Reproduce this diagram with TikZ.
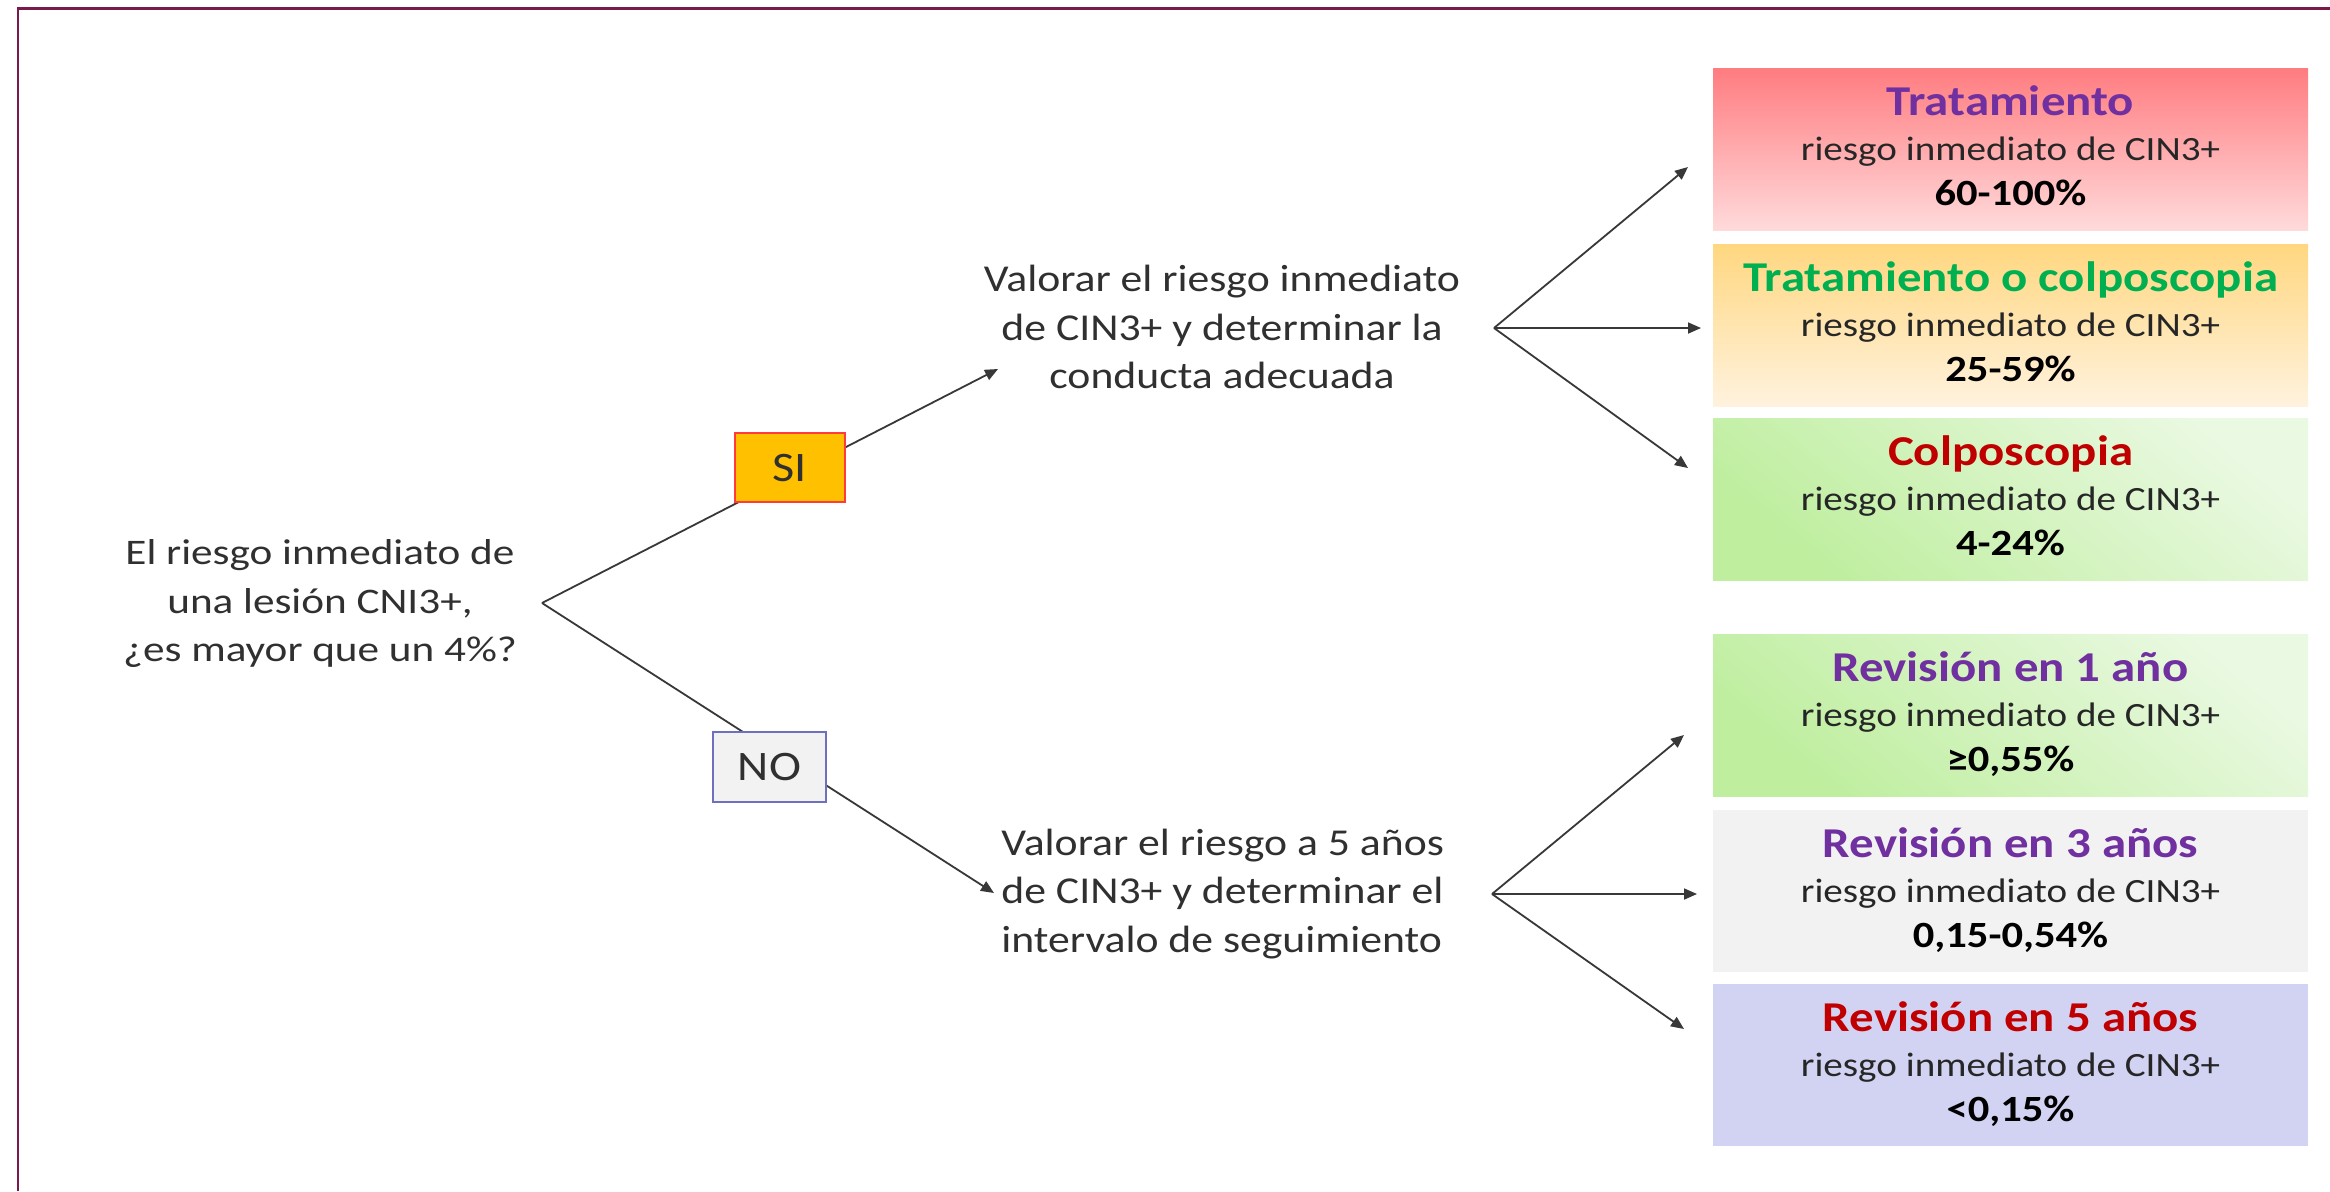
\documentclass[tikz,border=0pt]{standalone}
\usepackage{fontspec}
\setmainfont{Carlito}[FakeStretch=1.15]
\newfontfamily\widefont{Carlito}[FakeStretch=1.2]
\usetikzlibrary{arrows.meta,backgrounds}

\definecolor{framecol}{HTML}{7A1A4A}
\definecolor{txtcol}{HTML}{303030}
\definecolor{bodycol}{HTML}{262626}
\definecolor{linecol}{HTML}{383838}
\definecolor{purp}{HTML}{7030A0}
\definecolor{grn}{HTML}{00B050}
\definecolor{dred}{HTML}{C00000}
\definecolor{redA}{HTML}{FF7C80}
\definecolor{redB}{HTML}{FFDADB}
\definecolor{orgA}{HTML}{FFD780}
\definecolor{orgB}{HTML}{FFF2DE}
\definecolor{grnA}{HTML}{BEEE9E}
\definecolor{grnB}{HTML}{EAF9E2}
\definecolor{greyfill}{HTML}{F2F2F2}
\definecolor{lav}{HTML}{D2D2F2}
\definecolor{siyellow}{HTML}{FFC000}
\definecolor{sired}{HTML}{FF3B3B}
\definecolor{noblue}{HTML}{6F6FBF}

\begin{document}
\begin{tikzpicture}[x=0.5pt,y=-0.5pt,
  box/.style={minimum width=297.5pt, minimum height=81pt, inner sep=0pt, draw=none},
  vshade/.style 2 args={shading=axis, top color=#1, bottom color=#2},
  dshade/.style 2 args={shading=axis, bottom color=#1, top color=#2, shading angle=-40},
  ttl/.style={anchor=base, inner sep=0pt, font=\fontsize{21.25}{25}\selectfont\bfseries},
  risk/.style={anchor=base, inner sep=0pt, text=bodycol, font=\fontsize{17}{20}\selectfont},
  val/.style={anchor=base, inner sep=0pt, text=black, font=\fontsize{18.5}{22}\selectfont\bfseries},
  para/.style={inner sep=0pt, text=txtcol, font=\fontsize{19}{24.25}\selectfont},
  yn/.style={draw, line width=0.8pt, inner sep=0pt, text=txtcol, font=\fontsize{21}{24}\selectfont},
  link/.style={draw=linecol, line width=0.9pt},
  arr/.style={draw=linecol, line width=0.9pt, -{Triangle[length=6.5pt,width=5.5pt]}}
]
\useasboundingbox (0,0) rectangle (2330,1191);

% question and the two answers
\node[inner sep=0pt, text=txtcol, align=center, font=\widefont\fontsize{18}{24.25}\selectfont] (q) at (320,604)
  {El riesgo inmediato de\\una lesión CNI3+,\\¿es mayor que un 4\%?};
\coordinate (v0) at (542,603);

\node[yn, fill=siyellow, draw=sired, minimum width=55pt, minimum height=34.5pt] (si) at (790,467.5) {SI};
\node[yn, fill=greyfill, draw=noblue, minimum width=56.5pt, minimum height=35pt] (no) at (769.5,767) {NO};

% intermediate steps
\node[para, align=center] (mt) at (1222,327)
  {Valorar el riesgo inmediato\\de CIN3+ y determinar la\\conducta adecuada};
\node[para, align=left, anchor=west] (mb) at (1001,894)
  {Valorar el riesgo a 5 años\\de CIN3+ y determinar el\\intervalo de seguimiento};

\coordinate (ya) at (998,369);
\coordinate (na) at (994,893);

% fork points and arrow ends
\coordinate (f1) at (1494,328);
\coordinate (f1a) at (1688,167);
\coordinate (f1b) at (1701,328);
\coordinate (f1c) at (1688,468);
\coordinate (f2) at (1492,894);
\coordinate (f2a) at (1684,735);
\coordinate (f2b) at (1697,894);
\coordinate (f2c) at (1684,1029);

% outcome boxes
\node[box, vshade={redA}{redB}] (b1) at (2010.5,149) {};
\node[ttl, text=purp] (b1t) at ([yshift=17pt]b1.center) {Tratamiento};
\node[risk] (b1r) at ([yshift=-5.5pt]b1.center) {riesgo inmediato de CIN3+};
\node[val] (b1v) at ([yshift=-28pt]b1.center) {60-100\%};

\node[box, vshade={orgA}{orgB}] (b2) at (2010.5,325) {};
\node[ttl, text=grn] (b2t) at ([yshift=17pt]b2.center) {Tratamiento o colposcopia};
\node[risk] (b2r) at ([yshift=-5.5pt]b2.center) {riesgo inmediato de CIN3+};
\node[val] (b2v) at ([yshift=-28pt]b2.center) {25-59\%};

\node[box, dshade={grnA}{grnB}] (b3) at (2010.5,499) {};
\node[ttl, text=dred] (b3t) at ([yshift=17pt]b3.center) {Colposcopia};
\node[risk] (b3r) at ([yshift=-5.5pt]b3.center) {riesgo inmediato de CIN3+};
\node[val] (b3v) at ([yshift=-28pt]b3.center) {4-24\%};

\node[box, dshade={grnA}{grnB}] (b4) at (2010.5,715) {};
\node[ttl, text=purp] (b4t) at ([yshift=17pt]b4.center) {Revisión en 1 año};
\node[risk] (b4r) at ([yshift=-5.5pt]b4.center) {riesgo inmediato de CIN3+};
\node[val] (b4v) at ([yshift=-28pt]b4.center) {≥0,55\%};

\node[box, fill=greyfill] (b5) at (2010.5,891) {};
\node[ttl, text=purp] (b5t) at ([yshift=17pt]b5.center) {Revisión en 3 años};
\node[risk] (b5r) at ([yshift=-5.5pt]b5.center) {riesgo inmediato de CIN3+};
\node[val] (b5v) at ([yshift=-28pt]b5.center) {0,15-0,54\%};

\node[box, fill=lav] (b6) at (2010.5,1065) {};
\node[ttl, text=dred] (b6t) at ([yshift=17pt]b6.center) {Revisión en 5 años};
\node[risk] (b6r) at ([yshift=-5.5pt]b6.center) {riesgo inmediato de CIN3+};
\node[val] (b6v) at ([yshift=-28pt]b6.center) {<0,15\%};

% connectors run underneath the SI / NO labels
\begin{pgfonlayer}{background}
  \fill[white] (0,0) rectangle (2330,1191);
  \draw[arr] (v0) -- (ya);
  \draw[arr] (v0) -- (na);
\end{pgfonlayer}

\draw[arr] (f1) -- (f1a);
\draw[arr] (f1) -- (f1b);
\draw[arr] (f1) -- (f1c);
\draw[arr] (f2) -- (f2a);
\draw[arr] (f2) -- (f2b);
\draw[arr] (f2) -- (f2c);

% page frame
\draw[framecol, line width=1.3pt] (18,1191) -- (18,8.5) -- (2330,8.5);
\end{tikzpicture}
\end{document}
